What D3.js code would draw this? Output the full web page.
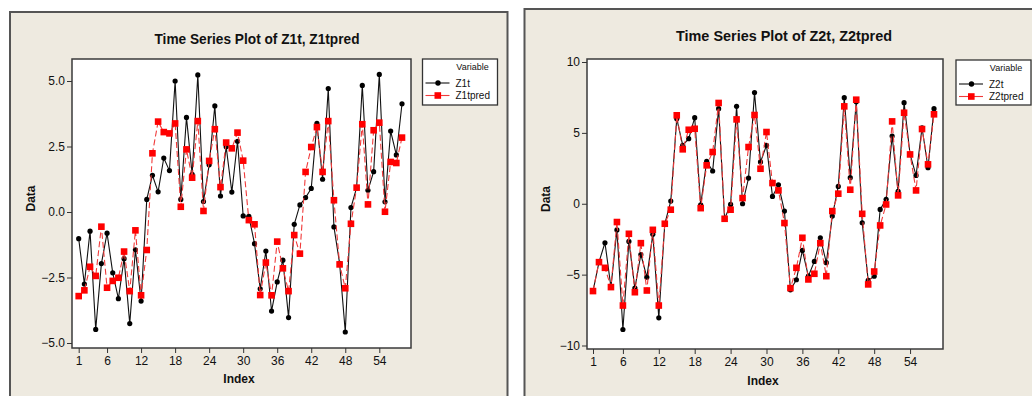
<!DOCTYPE html>
<html>
<head>
<meta charset="utf-8">
<script src="https://cdn.jsdelivr.net/npm/d3@7"></script>
<style>
  body { margin: 0; background: #fff; }
  svg { display: block; }
  text { font-family: "Liberation Sans", Arial, sans-serif; fill: #111; }
</style>
</head>
<body>
<svg id="chart" width="1032" height="396"></svg>
<script>
// values, index 1..58
const z1t = [-1.02, -2.75, -0.73, -4.48, -1.97, -0.81, -2.32, -3.31, -1.78, -4.26,
  -1.44, -3.40, 0.48, 1.40, 0.77, 2.06, 1.58, 5.00, 0.48, 3.61,
  1.44, 5.23, 0.40, 1.80, 4.05, 0.61, 2.49, 0.76, 2.70, -0.15,
  -0.17, -1.21, -2.93, -1.49, -3.78, -2.67, -1.84, -4.03, -0.47, 0.27,
  0.55, 0.90, 3.38, 1.25, 4.71, -0.57, -1.96, -4.58, 0.17, 0.93,
  4.83, 0.83, 1.54, 5.25, 0.39, 3.09, 2.18, 4.13];
const z1tpred = [-3.21, -2.99, -2.09, -2.44, -0.56, -2.89, -2.63, -2.51, -1.51, -3.02,
  -0.70, -3.18, -1.45, 2.24, 3.45, 3.05, 3.00, 3.38, 0.20, 2.39,
  1.31, 3.47, 0.04, 1.95, 3.16, 0.95, 2.65, 2.43, 3.03, 1.96,
  -0.31, -0.47, -3.17, -1.93, -3.18, -1.13, -2.15, -3.02, -0.88, -1.59,
  1.53, 2.48, 3.24, 1.53, 3.47, 0.45, -2.00, -2.91, -0.45, 0.93,
  3.35, 0.29, 3.12, 3.41, 0.01, 1.91, 1.87, 2.84];
const z2t = [-6.16, -4.12, -2.75, -5.88, -1.85, -8.87, -2.66, -5.95, -3.58, -5.18,
  -2.16, -8.05, -1.41, 0.19, 6.00, 4.12, 4.59, 6.07, -0.07, 2.99,
  2.31, 6.71, -1.06, -0.05, 6.87, 0.00, 1.81, 7.84, 2.95, 4.12,
  0.52, 1.34, -0.52, -6.07, -5.36, -3.29, -5.11, -4.07, -2.40, -4.16,
  -0.87, 1.22, 7.48, 1.84, 7.20, -1.34, -5.41, -5.11, -0.40, 0.31,
  4.78, 0.87, 7.13, 3.48, 2.00, 5.36, 2.54, 6.71];
const z2tpred = [-6.16, -4.12, -4.52, -5.88, -1.29, -7.18, -2.12, -6.24, -2.78, -6.12,
  -1.84, -7.18, -1.41, -0.42, 6.24, 3.84, 5.22, 5.29, -0.31, 2.71,
  3.65, 7.11, -1.06, -0.42, 5.95, 0.40, 4.00, 6.26, 2.47, 5.06,
  1.46, 0.94, -1.36, -5.95, -4.52, -2.40, -5.34, -4.94, -2.78, -5.11,
  -0.52, 0.71, 6.87, 0.99, 7.34, -0.71, -5.69, -4.78, -1.53, -0.05,
  5.81, 0.59, 6.42, 3.48, 0.94, 5.27, 2.78, 6.31];

const xTicks = [1, 6, 12, 18, 24, 30, 36, 42, 48, 54];
const yTicks1 = [-5.0, -2.5, 0.0, 2.5, 5.0];
const yTicks2 = [-10, -5, 0, 5, 10];

const panels = [
  {
    title: "Time Series Plot of Z1t, Z1tpred", titleX: 257, titleY: 44, titleW: 205,
    frame: [10, 12, 497.5, 400],
    plot: [72, 59, 411, 348],
    xRange: [78.7, 402], yDomain: [-5, 5], yRange: [343, 81],
    yTicks: yTicks1, yFmt: d3.format(".1f"),
    names: ["Z1t", "Z1tpred"], a: z1t, b: z1tpred,
    dataX: 31, indexX: 239, indexY: 383,
    legend: [422.5, 59, 75, 46]
  },
  {
    title: "Time Series Plot of Z2t, Z2tpred", titleX: 784, titleY: 41, titleW: 216,
    frame: [524.5, 9, 520, 400],
    plot: [587, 59, 943, 349],
    xRange: [593, 934], yDomain: [-10, 10], yRange: [345.5, 62],
    yTicks: yTicks2, yFmt: d3.format("d"),
    names: ["Z2t", "Z2tpred"], a: z2t, b: z2tpred,
    dataX: 546, indexX: 763, indexY: 385,
    legend: [956, 60, 75, 45]
  }
];

const svg = d3.select("#chart");
const beige = "#eeeae0";

panels.forEach(p => {
  const g = svg.append("g");
  const [fx, fy, fw, fh] = p.frame;
  g.append("rect").attr("x", fx).attr("y", fy).attr("width", fw).attr("height", fh)
    .attr("fill", beige).attr("stroke", "#555").attr("stroke-width", 2);

  const [px0, py0, px1, py1] = p.plot;
  g.append("rect").attr("x", px0).attr("y", py0).attr("width", px1 - px0).attr("height", py1 - py0)
    .attr("fill", "#fff").attr("stroke", "#3a3a3a").attr("stroke-width", 1.5);

  const idx = d3.range(1, p.a.length + 1);
  const x = d3.scaleLinear().domain([1, p.a.length]).range(p.xRange);
  const y = d3.scaleLinear().domain(p.yDomain).range(p.yRange);

  // axes
  const xAxis = g.append("g").attr("transform", `translate(0,${py1})`)
    .call(d3.axisBottom(x).tickValues(xTicks).tickSize(5).tickPadding(3).tickFormat(d3.format("d")));
  const yAxis = g.append("g").attr("transform", `translate(${px0},0)`)
    .call(d3.axisLeft(y).tickValues(p.yTicks).tickSize(5).tickPadding(2).tickFormat(p.yFmt));
  [xAxis, yAxis].forEach(ax => {
    ax.select(".domain").remove();
    ax.selectAll("line").attr("stroke", "#333");
    ax.selectAll("text").style("font-size", "12px").style("font-family", "'Liberation Sans', Arial, sans-serif").attr("fill", "#111");
  });

  // titles
  g.append("text").attr("x", p.titleX).attr("y", p.titleY).attr("text-anchor", "middle")
    .attr("textLength", p.titleW).attr("lengthAdjust", "spacingAndGlyphs")
    .style("font-size", "15px").style("font-weight", "bold").text(p.title);
  g.append("text").attr("transform", `translate(${p.dataX + 4},${(py0 + py1) / 2 - 5}) rotate(-90)`)
    .attr("text-anchor", "middle").style("font-size", "12px").style("font-weight", "bold").text("Data");
  g.append("text").attr("x", p.indexX).attr("y", p.indexY).attr("text-anchor", "middle")
    .style("font-size", "12px").style("font-weight", "bold").text("Index");

  // series
  const line = vals => d3.line().x((d, i) => x(idx[i])).y(d => y(d))(vals);
  g.append("path").attr("d", line(p.a)).attr("fill", "none").attr("stroke", "#111").attr("stroke-width", 1.1);
  g.selectAll(".dotA").data(p.a).join("circle").attr("class", "dotA")
    .attr("cx", (d, i) => x(idx[i])).attr("cy", d => y(d)).attr("r", 2.6).attr("fill", "#000");
  g.append("path").attr("d", line(p.b)).attr("fill", "none").attr("stroke", "#f03a3a")
    .attr("stroke-width", 1.1).attr("stroke-dasharray", "6,3");
  g.selectAll(".sqB").data(p.b).join("rect").attr("class", "sqB")
    .attr("x", (d, i) => x(idx[i]) - 3.3).attr("y", d => y(d) - 3.3).attr("width", 6.6).attr("height", 6.6)
    .attr("fill", "#f00");

  // legend
  const [lx, ly, lw, lh] = p.legend;
  const lg = g.append("g");
  lg.append("rect").attr("x", lx).attr("y", ly).attr("width", lw).attr("height", lh)
    .attr("fill", "#fff").attr("stroke", "#333").attr("stroke-width", 1.3);
  lg.append("text").attr("x", lx + 50).attr("y", ly + 11).attr("text-anchor", "middle")
    .style("font-size", "9px").text("Variable");
  [0, 1].forEach(k => {
    const yy = ly + 24 + k * 12.5;
    lg.append("line").attr("x1", lx + 3).attr("x2", lx + 27).attr("y1", yy).attr("y2", yy)
      .attr("stroke", k ? "#f03a3a" : "#111").attr("stroke-width", 1.1);
    if (k) lg.append("rect").attr("x", lx + 12).attr("y", yy - 3.3).attr("width", 6.6).attr("height", 6.6).attr("fill", "#f00");
    else lg.append("circle").attr("cx", lx + 15.5).attr("cy", yy).attr("r", 2.7).attr("fill", "#000");
    lg.append("text").attr("x", lx + 33).attr("y", yy + 3.5).style("font-size", "10px").text(p.names[k]);
  });
});
</script>
</body>
</html>
